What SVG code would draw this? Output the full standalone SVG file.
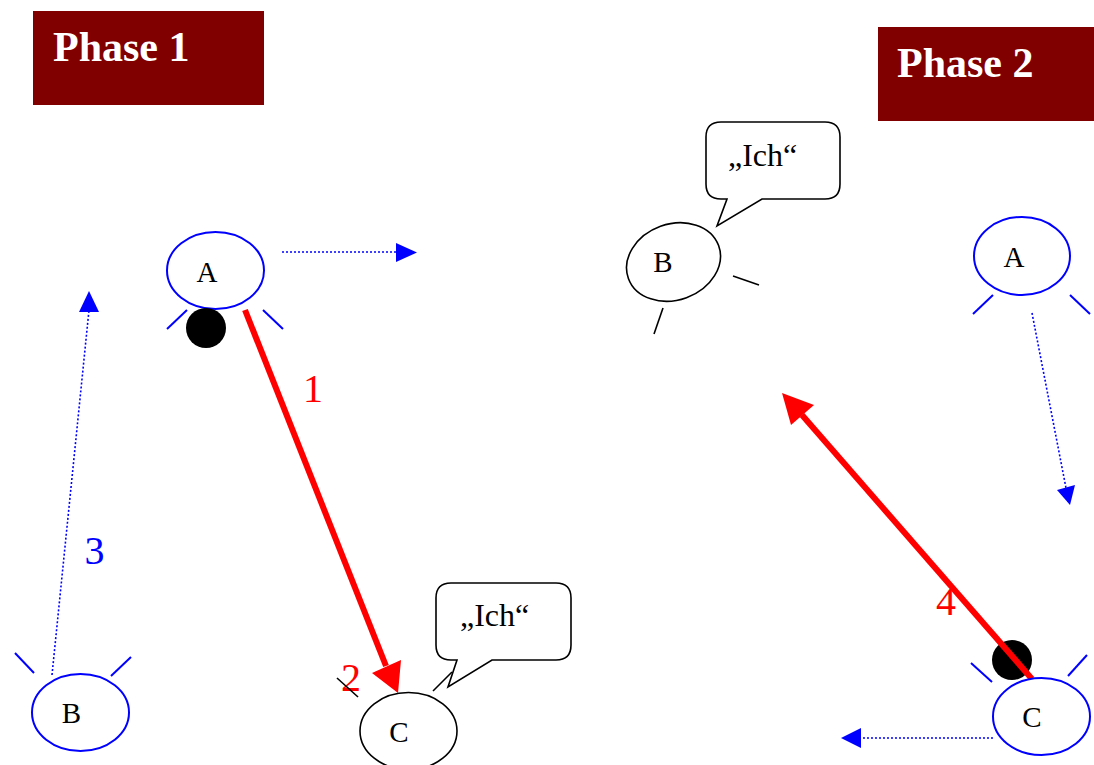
<svg xmlns="http://www.w3.org/2000/svg" width="1094" height="765" viewBox="0 0 1094 765">
<style>
.title{fill:#800000}
.tt{font-family:"Liberation Serif","Times New Roman",serif;font-weight:bold;font-size:42px;fill:#fff}
.lbl{font-family:"Liberation Serif","Times New Roman",serif;font-size:29px;fill:#000;text-anchor:middle}
.say{font-family:"Liberation Serif","Times New Roman",serif;font-size:32px;fill:#000}
.num{font-family:"Liberation Serif","Times New Roman",serif;font-size:40px;text-anchor:middle}
.be{fill:#fff;stroke:#0000ff;stroke-width:2}
.ke{fill:#fff;stroke:#000;stroke-width:1.6}
.bt{stroke:#0000ff;stroke-width:2;fill:none}
.kt{stroke:#000;stroke-width:1.6;fill:none}
.dot{stroke:#0000ff;stroke-width:1.6;stroke-dasharray:2 2;fill:none}
.red{stroke:#ff0000;stroke-width:6;fill:none}
.bub{fill:#fff;stroke:#000;stroke-width:1.6}
</style>
<rect width="1094" height="765" fill="#fff"/>
<g id="phase1-title">
<rect class="title" x="33" y="11" width="231" height="94"/>
<text class="tt" x="53" y="61">Phase 1</text>
</g>
<g id="phase2-title">
<rect class="title" x="878" y="27" width="216" height="94"/>
<text class="tt" x="897" y="77">Phase 2</text>
</g>
<g id="connectors">
<line class="dot" x1="282" y1="252" x2="397" y2="252"/>
<polygon points="396,243 417,252.5 396,262" fill="#0000ff"/>
<line class="dot" x1="52" y1="675" x2="89" y2="310"/>
<polygon points="79,312 89,291 99,312" fill="#0000ff"/>
<line class="red" x1="245" y1="310" x2="386" y2="666"/>
<polygon points="372,673 401,660 398,693" fill="#ff0000"/>
<line class="dot" x1="1032" y1="313" x2="1066" y2="488"/>
<polygon points="1057,490 1075,485 1070,505" fill="#0000ff"/>
<line class="dot" x1="993" y1="738" x2="861" y2="738"/>
<polygon points="861,728 841,738 861,748" fill="#0000ff"/>
<circle cx="1012" cy="660" r="20" fill="#000"/>
<line class="red" x1="1032" y1="679" x2="802" y2="415"/>
<polygon points="791,425 814,405 782,393" fill="#ff0000"/>
<text class="num" x="313" y="402" fill="#ff0000">1</text>
<text class="num" x="351" y="691" fill="#ff0000">2</text>
<text class="num" x="94.5" y="564" fill="#0000ff">3</text>
<text class="num" x="946" y="615" fill="#ff0000">4</text>
</g>
<g id="p1-A">
<ellipse class="be" cx="215.5" cy="270.5" rx="48.5" ry="38.5"/>
<text class="lbl" x="207" y="282">A</text>
<line class="bt" x1="167" y1="329" x2="187" y2="310"/>
<line class="bt" x1="263" y1="310" x2="283" y2="329"/>
<circle cx="206" cy="328" r="20" fill="#000"/>
</g>
<g id="p1-B">
<ellipse class="be" cx="80.5" cy="712.5" rx="48.5" ry="38.5"/>
<text class="lbl" x="71.5" y="723">B</text>
<line class="bt" x1="15" y1="653" x2="34" y2="673"/>
<line class="bt" x1="111" y1="676" x2="131" y2="657"/>
</g>
<g id="p1-C">
<ellipse class="ke" cx="408.5" cy="731" rx="48.5" ry="38.5"/>
<text class="lbl" x="399" y="742">C</text>
<line class="kt" x1="337" y1="678" x2="358" y2="697"/>
<line class="kt" x1="433" y1="691" x2="452" y2="672"/>
</g>
<g id="p1-bubble">
<path class="bub" d="M451,583 H556 Q571,583 571,598 V645 Q571,660 556,660 H492 L448,687 L457,660 H451 Q436,660 436,645 V598 Q436,583 451,583 Z"/>
<text class="say" x="460" y="626">„Ich“</text>
</g>
<g id="p2-B">
<ellipse class="ke" cx="673.5" cy="262" rx="48" ry="38" transform="rotate(-20 673.5 262)"/>
<text class="lbl" x="663" y="272">B</text>
<line class="kt" x1="733" y1="276" x2="759" y2="285"/>
<line class="kt" x1="663" y1="308" x2="654" y2="334"/>
</g>
<g id="p2-bubble">
<path class="bub" d="M721,122 H825 Q840,122 840,137 V184 Q840,199 825,199 H762 L717,226 L727,199 H721 Q706,199 706,184 V137 Q706,122 721,122 Z"/>
<text class="say" x="728" y="166">„Ich“</text>
</g>
<g id="p2-A">
<ellipse class="be" cx="1022" cy="256" rx="48" ry="39"/>
<text class="lbl" x="1014" y="267">A</text>
<line class="bt" x1="993" y1="295" x2="973" y2="314"/>
<line class="bt" x1="1070" y1="295" x2="1090" y2="314"/>
</g>
<g id="p2-C">
<ellipse class="be" cx="1041.5" cy="716.5" rx="48.5" ry="38.5"/>
<text class="lbl" x="1032" y="727">C</text>
<line class="bt" x1="971" y1="663" x2="992" y2="682"/>
<line class="bt" x1="1068" y1="676" x2="1087" y2="655"/>
</g>
</svg>
